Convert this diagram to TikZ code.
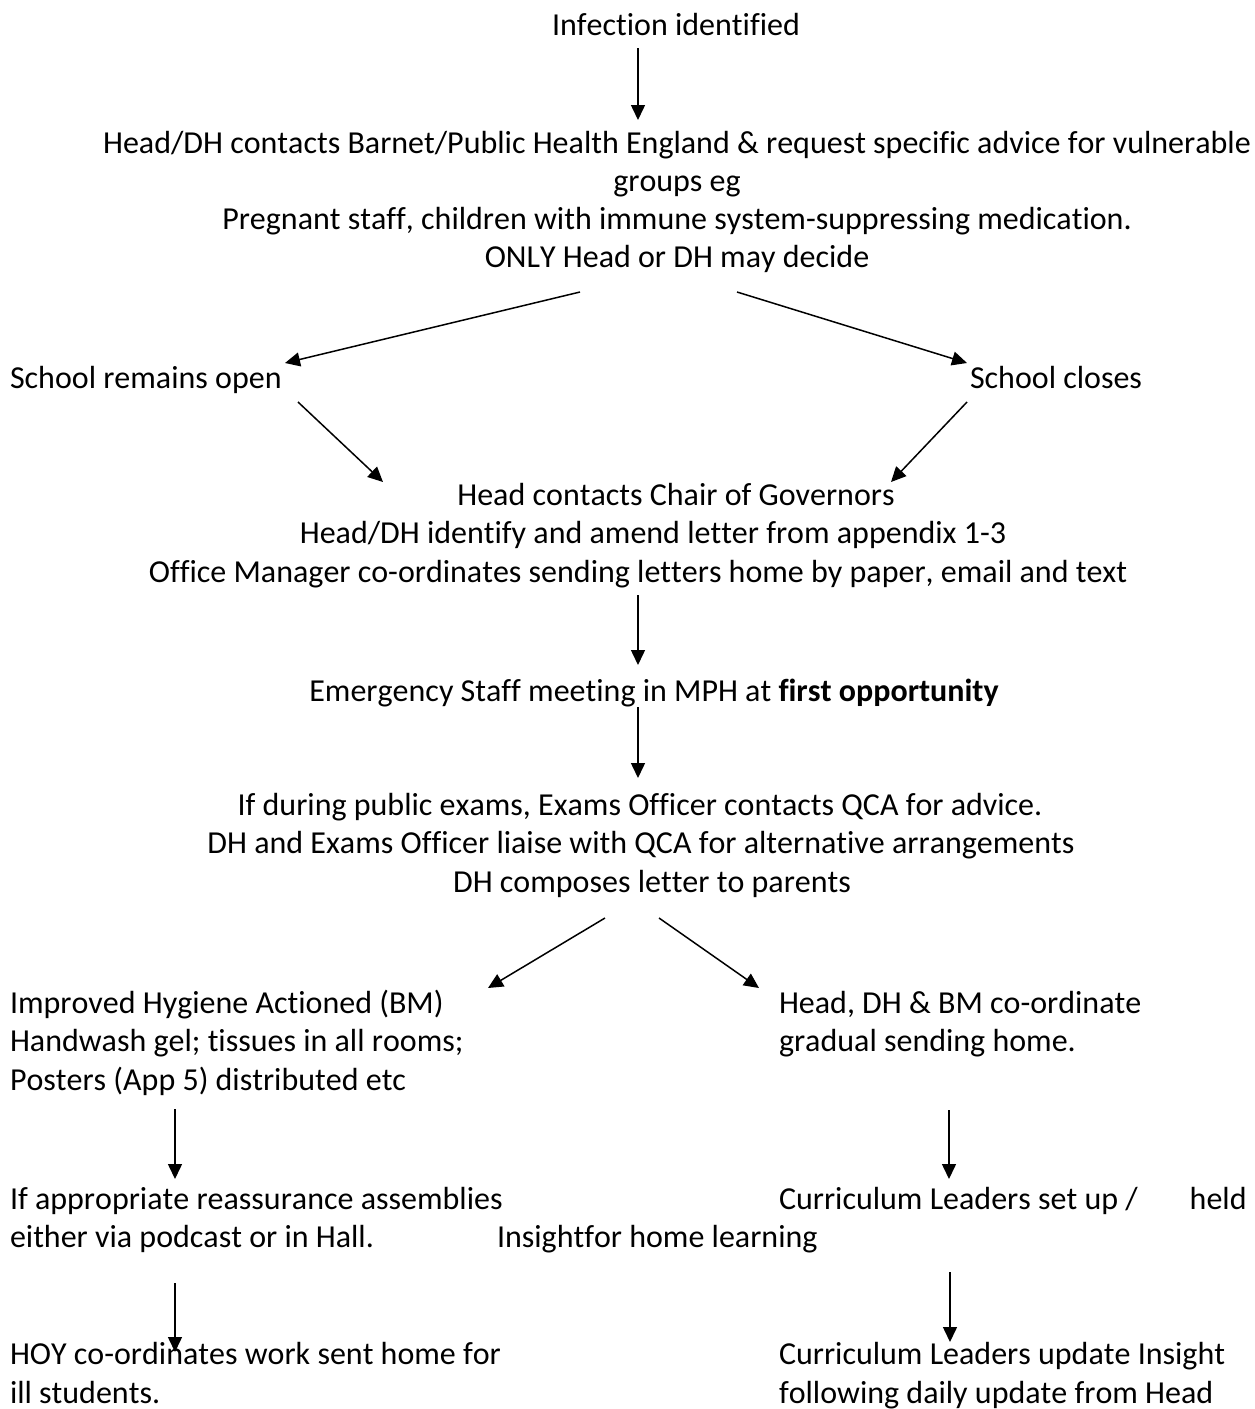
\documentclass[tikz,border=0pt]{standalone}
\usepackage{fontspec}
\setmainfont{Carlito}[Ligatures=NoCommon,Kerning=Off]
\usetikzlibrary{arrows.meta}
\begin{document}
\begin{tikzpicture}[x=1pt,y=-1pt,
	txt/.style={inner sep=0pt,outer sep=0pt,font=\fontsize{32}{38.3}\selectfont},
	ctr/.style={txt,anchor=base},
	lft/.style={txt,anchor=base west,align=left},
	arr/.style={line width=1.5pt,-{Triangle[length=15pt,width=14pt]}}]
	\fill[white] (0,0) rectangle (1254,1409);
	\useasboundingbox (0,0) rectangle (1254,1409);
	\node [ctr] (infect) at (676,35) {Infection identified};
	\node [ctr] (adv1) at (677,153) {Head/DH contacts Barnet/Public Health England \& request specific advice for vulnerable};
	\node [ctr] (adv2) at (677,191) {groups eg};
	\node [ctr] (adv3) at (677,229) {Pregnant staff, children with immune system-suppressing medication.};
	\node [ctr] (adv4) at (677,267) {ONLY Head or DH may decide};
	\node [lft] (open) at (10,388) {School remains open};
	\node [lft] (closes) at (970,388) {School closes};
	\node [ctr] (chair1) at (676,505) {Head contacts Chair of Governors};
	\node [ctr] (chair2) at (653,543.5) {Head/DH identify and amend letter from appendix 1-3};
	\node [ctr] (chair3) at (638,582) {Office Manager co-ordinates sending letters home by paper, email and text};
	\node [ctr] (meet) at (654,701) {Emergency Staff meeting in MPH at \textbf{first opportunity}};
	\node [ctr] (exam1) at (640,815) {If during public exams, Exams Officer contacts QCA for advice.};
	\node [ctr] (exam2) at (641,853.5) {DH and Exams Officer liaise with QCA for alternative arrangements};
	\node [ctr] (exam3) at (652,892) {DH composes letter to parents};
	\node [lft] (hyg) at (10,1090) {Improved Hygiene Actioned (BM)\\Handwash gel; tissues in all rooms;\\Posters (App 5) distributed etc};
	\node [lft] (send) at (779,1051.5) {Head, DH \& BM co-ordinate\\gradual sending home.};
	\node [lft] (assem) at (10,1247.5) {If appropriate reassurance assemblies\\either via podcast or in Hall.};
	\node [lft] (setup) at (779,1209) {Curriculum Leaders set up /\hspace*{52pt}held};
	\node [lft] (insight) at (497,1247.5) {Insightfor home learning};
	\node [lft] (hoy) at (10,1403) {HOY co-ordinates work sent home for\\ill students.};
	\node [lft] (update) at (779,1403) {Curriculum Leaders update Insight\\following daily update from Head};
	\draw [arr] ([xshift=-38pt,yshift=-13pt]infect.base) -- ([xshift=-39pt,yshift=33pt]adv1.base);
	\draw [arr] ([xshift=-97pt,yshift=-25pt]adv4.base) -- ([xshift=275pt,yshift=25pt]open.base west);
	\draw [arr] ([xshift=60pt,yshift=-25pt]adv4.base) -- ([xshift=-3pt,yshift=25pt]closes.base west);
	\draw [arr] ([xshift=288pt,yshift=-14pt]open.base west) -- ([xshift=-293pt,yshift=23pt]chair1.base);
	\draw [arr] ([xshift=-3pt,yshift=-14pt]closes.base west) -- ([xshift=215pt,yshift=23pt]chair1.base);
	\draw [arr] ([yshift=-13pt]chair3.base) -- ([xshift=-16pt,yshift=36pt]meet.base);
	\draw [arr] ([xshift=-16pt,yshift=-6pt]meet.base) -- ([xshift=-2pt,yshift=37pt]exam1.base);
	\draw [arr] ([xshift=-47pt,yshift=-26pt]exam3.base) -- ([xshift=478pt,yshift=102pt]hyg.base west);
	\draw [arr] ([xshift=7pt,yshift=-26pt]exam3.base) -- ([xshift=-20pt,yshift=63.5pt]send.base west);
	\draw [arr] ([xshift=165pt,yshift=-19pt]hyg.base west) -- ([xshift=165pt,yshift=68.5pt]assem.base west);
	\draw [arr] ([xshift=170pt,yshift=-58.5pt]send.base west) -- ([xshift=170pt,yshift=30pt]setup.base west);
	\draw [arr] ([xshift=165pt,yshift=-35.5pt]assem.base west) -- ([xshift=165pt,yshift=51pt]hoy.base west);
	\draw [arr] ([xshift=171pt,yshift=-63pt]setup.base west) -- ([xshift=171pt,yshift=61pt]update.base west);
\end{tikzpicture}
\end{document}
